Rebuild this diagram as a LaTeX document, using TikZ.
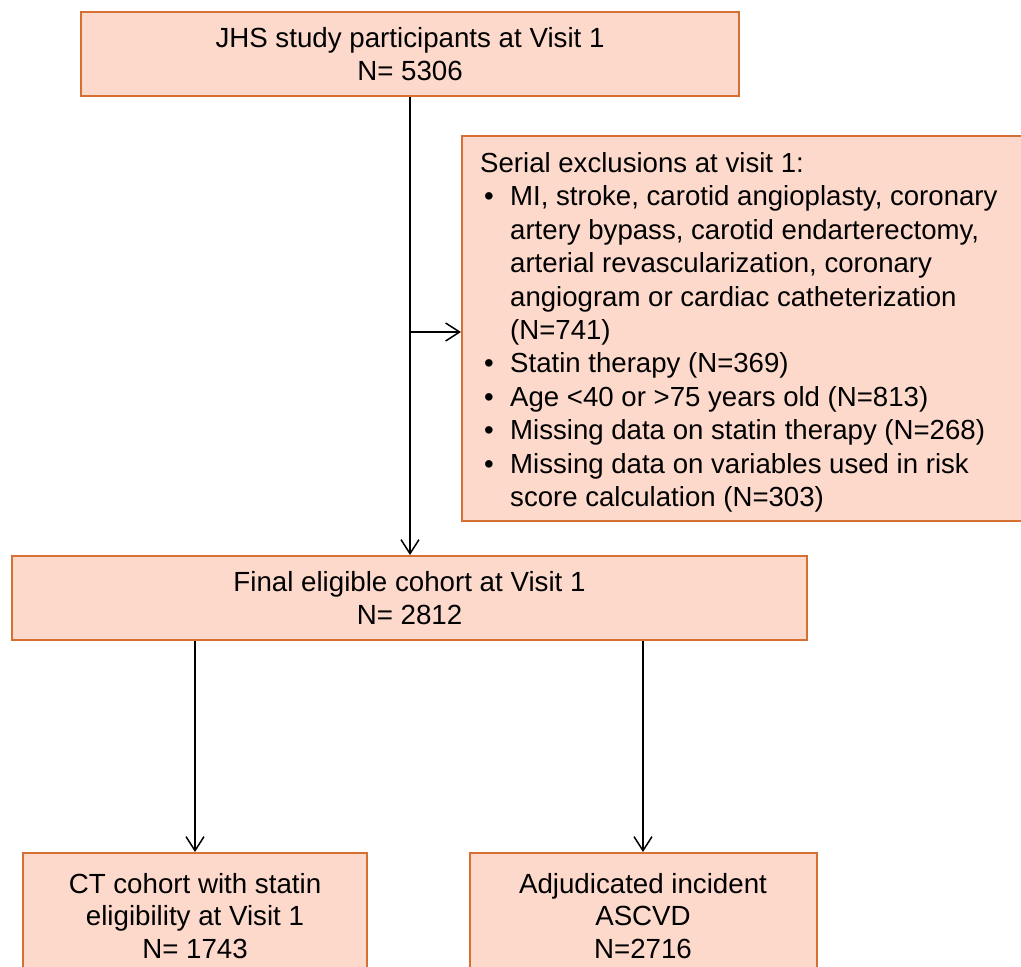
\documentclass[tikz,border=0pt]{standalone}
\usepackage{fontspec}
\setmainfont{Liberation Sans}
\usetikzlibrary{arrows.meta}
\definecolor{boxfill}{RGB}{253,217,204}
\definecolor{boxline}{RGB}{214,112,50}
\newcommand\exbul{\makebox[30pt][l]{\hspace{4pt}•}}
\newcommand\exind{\makebox[30pt]{}}
\begin{document}
\begin{tikzpicture}[x=1pt,y=-1pt,
  flowbox/.style={draw=boxline, fill=boxfill, line width=2pt, inner sep=0pt, align=center,
    font=\fontsize{27.7}{32.5}\selectfont},
  conn/.style={line width=1.5pt, -{Straight Barb[length=14pt,width=18pt,line width=1.5pt]}}]
\useasboundingbox (0,0) rectangle (1021,967);
\clip (0,0) rectangle (1021,967);
\node[flowbox, minimum width=658pt, minimum height=84pt] (top) at (410,54) {JHS study participants at Visit 1\\N= 5306};
\node[flowbox, minimum width=573pt, minimum height=385pt] (excl) at (748.5,328.5) {};
\node[anchor=north west, inner sep=0pt, align=left, font=\fontsize{27.6}{33.45}\selectfont] (excltext) at (480,152) {%
Serial exclusions at visit 1:\\
\exbul MI, stroke, carotid angioplasty, coronary\\
\exind artery bypass, carotid endarterectomy,\\
\exind arterial revascularization, coronary\\
\exind angiogram or cardiac catheterization\\
\exind (N=741)\\
\exbul Statin therapy (N=369)\\
\exbul Age <40 or >75 years old (N=813)\\
\exbul Missing data on statin therapy (N=268)\\
\exbul Missing data on variables used in risk\\
\exind score calculation (N=303)};
\node[flowbox, minimum width=795pt, minimum height=84pt] (final) at (409.5,598) {Final eligible cohort at Visit 1\\N= 2812};
\node[flowbox, minimum width=344pt, minimum height=126pt] (bl) at (195,916) {CT cohort with statin\\eligibility at Visit 1\\N= 1743};
\node[flowbox, minimum width=347pt, minimum height=126pt] (br) at (643,916) {Adjudicated incident\\ASCVD\\N=2716};
\coordinate (branch) at (410,332);
\draw[conn] (top.south) -- (top.south |- final.north);
\draw[conn] (branch) -- (branch -| excl.west);
\draw[conn] (final.south -| bl.north) -- (bl.north);
\draw[conn] (final.south -| br.north) -- (br.north);
\end{tikzpicture}
\end{document}
